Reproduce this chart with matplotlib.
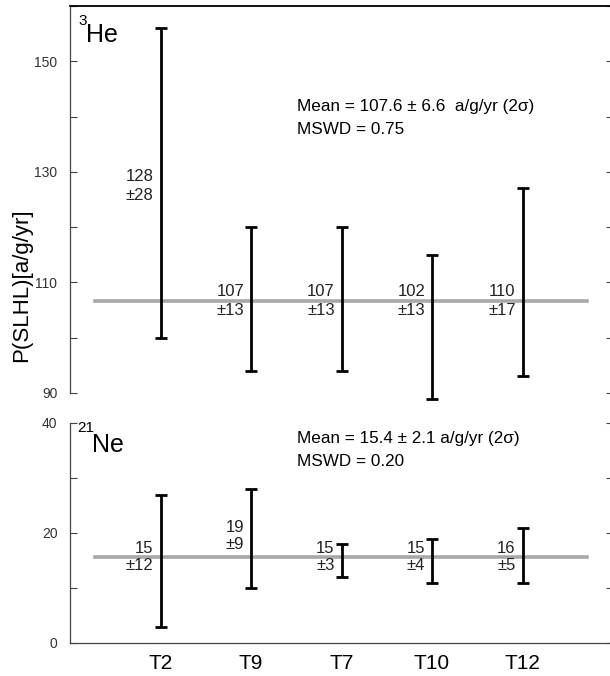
import numpy as np
import matplotlib.pyplot as plt

plt.rcParams['font.family'] = ['Liberation Sans', 'DejaVu Sans']

samples = ['T2', 'T9', 'T7', 'T10', 'T12']
he_vals = [128, 107, 107, 102, 110]
he_err = [28, 13, 13, 13, 17]
ne_vals = [15, 19, 15, 15, 16]
ne_err = [12, 9, 3, 4, 5]
he_mean = 106.7   # line as drawn
ne_mean = 15.7
he_text = 'Mean = 107.6 ± 6.6  a/g/yr (2σ)\nMSWD = 0.75'
ne_text = 'Mean = 15.4 ± 2.1 a/g/yr (2σ)\nMSWD = 0.20'

# where the "value / ±err" labels sit
he_label_y = [127.5, he_mean, he_mean, he_mean, he_mean]
ne_label_y = [ne_mean, 19.5, ne_mean, ne_mean, ne_mean]

W, H = 610, 676
fig = plt.figure(figsize=(W / 100, H / 100), dpi=100)
ax1 = fig.add_axes([70 / W, 1 - 393 / H, 543 / W, 387 / H])
ax2 = fig.add_axes([70 / W, 1 - 643 / H, 543 / W, 220 / H])

x = np.arange(1, len(samples) + 1)
grey = '#444444'


def panel(ax, vals, errs, mean, label_y, ylim, ticks, ticklabels):
    ax.set_xlim(0, 6)
    ax.set_ylim(*ylim)
    ax.plot([0.28, 5.71], [mean, mean], color='#a8a8a8', lw=2.6, zorder=1)
    eb = ax.errorbar(x, vals, yerr=errs, fmt='none', ecolor='black',
                     elinewidth=2.0, capsize=4, capthick=2.0, zorder=2)
    for c in eb.lines[1]:
        c.set_clip_on(False)
    for c in eb.lines[2]:
        c.set_clip_on(False)
    dy = 0.35 * (ylim[1] - ylim[0]) / 70
    for xi, v, e, ly in zip(x, vals, errs, label_y):
        ax.text(xi - 0.075, ly + dy, str(v),
                ha='right', va='bottom', fontsize=12, color='#222222')
        ax.text(xi - 0.075, ly - dy, '±%d' % e,
                ha='right', va='top', fontsize=12, color='#222222')
    ax.set_yticks(ticks)
    ax.set_yticklabels(ticklabels, fontsize=10, color='#333333')
    ax.tick_params(axis='y', direction='in', length=5, width=0.8,
                   color=grey, right=True, pad=9)
    ax.spines['right'].set_visible(False)
    ax.spines['left'].set_color(grey)
    ax.spines['left'].set_linewidth(0.9)


ticks1 = np.arange(90, 161, 10)
panel(ax1, he_vals, he_err, he_mean, he_label_y, (90, 160), ticks1,
      [str(t) if t in (90, 110, 130, 150) else '' for t in ticks1])
ax1.spines['bottom'].set_visible(False)
ax1.spines['top'].set_linewidth(1.3)
ax1.set_xticks([])

ticks2 = np.arange(0, 41, 10)
panel(ax2, ne_vals, ne_err, ne_mean, ne_label_y, (0, 40), ticks2,
      [str(t) if t in (0, 20, 40) else '' for t in ticks2])
ax2.spines['top'].set_visible(False)
ax2.spines['bottom'].set_color(grey)
ax2.spines['bottom'].set_linewidth(0.9)
ax2.set_xticks(x)
ax2.set_xticklabels(samples, fontsize=15)
ax2.tick_params(axis='x', length=0, pad=8)

# panel names and summary texts
fig.text(78 / W, 1 - 21 / H, '3', fontsize=11, ha='left', va='center')
fig.text(86 / W, 1 - 35 / H, 'He', fontsize=18, ha='left', va='center')
fig.text(77 / W, 1 - 428 / H, '21', fontsize=11, ha='left', va='center')
fig.text(92 / W, 1 - 445 / H, 'Ne', fontsize=18, ha='left', va='center')
fig.text(297 / W, 1 - 118 / H, he_text, fontsize=12.3, va='center',
         linespacing=1.75)
fig.text(297 / W, 1 - 450 / H, ne_text, fontsize=12.3, va='center',
         linespacing=1.75)
fig.text(22 / W, 1 - 285 / H, 'P(SLHL)[a/g/yr]', rotation=90, fontsize=16,
         ha='center', va='center')

fig.savefig('out.png', dpi=100)
